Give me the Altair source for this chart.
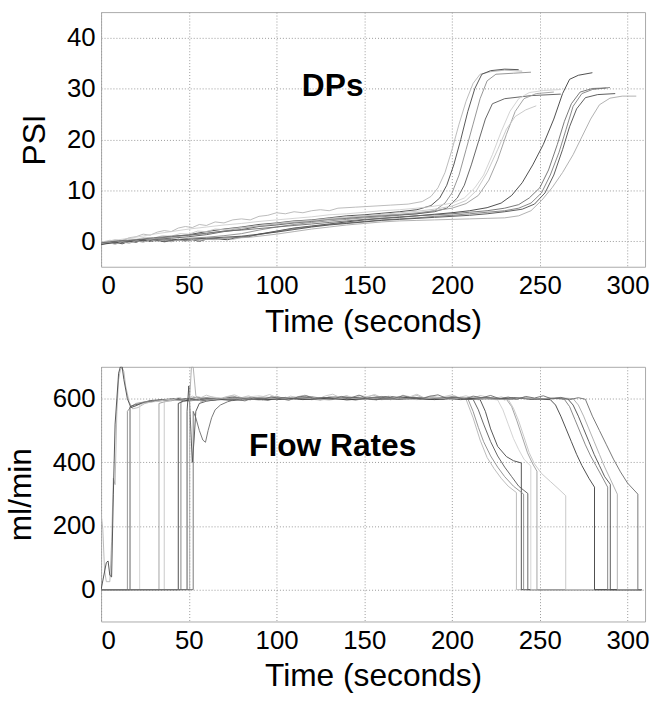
import altair as alt
import pandas as pd

# ---------------- DP curves (time s, PSI) ----------------
dp_A = [(0,-0.3),(4,0.0),(8,0.3),(12,0.1),(16,0.7),(20,0.9),(24,1.4),(28,1.2),(32,1.8),(36,2.1),(40,1.9),(44,2.6),(48,2.9),(52,2.7),(56,3.3),(60,3.1),(65,3.8),(70,3.6),(75,4.2),(80,4.4),(85,4.2),(90,4.9),(95,5.1),(100,5.6),(105,5.4),(110,5.8),(115,5.6),(120,6.0),(125,6.2),(130,6.0),(135,6.5),(145,6.7),(155,6.9),(165,7.1),(175,7.3),(183,7.8),(188,8.8),(192,10.5),(196,13.5),(200,18),(204,23),(208,27.5),(212,31),(216,32.8),(222,33.3),(230,33.6),(240,33.4)]
dp_B = [(0,-0.6),(10,-0.2),(20,0.3),(30,0.5),(40,0.9),(50,1.3),(60,1.9),(70,2.4),(80,2.8),(90,3.3),(100,3.6),(110,4.0),(120,4.2),(130,4.6),(140,5.0),(150,5.2),(160,5.5),(170,5.8),(180,6.2),(188,7.0),(193,8.5),(197,11),(201,15),(205,20),(209,25.5),(213,30),(217,32.8),(222,33.5),(230,33.8),(238,33.7)]
dp_C = [(0,-0.4),(10,0.0),(20,0.1),(30,0.3),(40,0.2),(50,0.6),(60,0.8),(70,1.1),(80,1.5),(90,2.2),(100,2.8),(110,3.3),(120,3.7),(130,4.0),(140,4.3),(150,4.6),(160,4.8),(170,5.1),(180,5.4),(190,6.0),(196,7.5),(200,9.5),(204,13),(208,18),(212,23),(216,28),(220,31.5),(225,32.8),(235,33.0),(245,33.2)]
dp_D = [(0,-0.5),(10,-0.3),(20,0.2),(30,0.4),(40,0.6),(50,0.9),(60,1.3),(70,1.9),(80,2.3),(90,2.9),(100,3.2),(110,3.6),(120,3.9),(130,4.3),(140,4.5),(150,4.8),(160,5.0),(170,5.2),(180,5.4),(190,5.8),(197,6.5),(203,8.5),(207,11),(211,15),(215,19.5),(219,24),(223,27),(230,28),(245,28.6),(262,28.9)]
dp_E = [(0,-0.3),(10,0.3),(20,0.8),(30,1.4),(40,1.9),(50,2.4),(60,2.8),(70,3.2),(80,3.5),(90,3.9),(100,4.2),(110,4.5),(120,4.8),(130,5.2),(140,5.4),(150,5.7),(160,6.0),(170,6.2),(180,6.5),(190,6.9),(200,7.5),(207,8.5),(213,10.5),(218,13),(223,17),(228,21.5),(233,25.5),(238,28),(244,29.2),(252,29.6),(262,29.8)]
dp_F = [(0,-0.5),(10,-0.2),(20,0.1),(30,0.5),(40,0.8),(50,1.2),(60,1.5),(70,2.0),(80,2.6),(90,3.0),(100,3.4),(110,3.7),(120,4.0),(130,4.3),(140,4.6),(150,4.9),(160,5.1),(170,5.3),(180,5.6),(190,6.0),(200,6.5),(208,7.4),(215,9),(221,12),(226,16),(231,21),(236,25.5),(241,28),(248,29),(258,29.3)]
dp_G = [(0,-0.2),(5,0.2),(10,0.0),(15,0.5),(20,0.4),(25,0.8),(30,0.6),(35,1.1),(40,1.0),(45,1.5),(50,1.4),(55,2.0),(60,1.9),(65,2.4),(70,2.3),(80,2.7),(90,3.1),(100,3.5),(110,3.9),(120,4.1),(130,4.5),(140,4.8),(150,5.0),(160,5.3),(170,5.6),(180,5.9),(190,6.3),(200,6.9),(208,8),(214,10),(220,13.5),(226,18),(231,22),(236,24.5),(242,25.8),(248,26.6)]
dp_H = [(0,-0.6),(4,-0.3),(8,-0.1),(12,-0.5),(16,0.0),(20,-0.2),(24,0.3),(28,0.0),(32,0.2),(36,-0.1),(40,0.1),(44,0.4),(48,0.1),(52,0.3),(56,0.0),(60,0.4),(66,0.5),(72,0.3),(78,0.8),(84,0.9),(90,1.4),(100,2.0),(110,2.6),(120,3.0),(130,3.4),(140,3.8),(150,4.2),(160,4.5),(170,4.7),(180,5.0),(190,5.3),(200,5.6),(210,6.0),(220,6.6),(228,7.5),(234,9),(240,11.5),(246,15),(252,19),(258,24),(263,29),(267,31.8),(272,32.6),(280,33.1)]
dp_I = [(0,-0.4),(10,-0.1),(20,0.0),(30,0.2),(40,0.1),(50,0.3),(60,0.5),(70,0.6),(80,0.8),(90,1.3),(100,1.9),(110,2.5),(120,2.9),(130,3.3),(140,3.6),(150,3.9),(160,4.2),(170,4.4),(180,4.6),(190,4.9),(200,5.1),(210,5.4),(220,5.7),(230,6.0),(238,6.5),(245,7.5),(251,9.5),(256,13),(261,17.5),(265,22),(269,26.5),(274,29),(280,29.8),(290,30.2)]
dp_J = [(0,-0.5),(10,-0.3),(20,0.0),(30,0.2),(40,0.3),(50,0.4),(60,0.6),(70,0.8),(80,1.0),(90,1.4),(100,1.8),(110,2.3),(120,2.8),(130,3.2),(140,3.5),(150,3.8),(160,4.1),(170,4.3),(180,4.5),(190,4.7),(200,4.9),(210,5.1),(220,5.4),(230,5.8),(240,6.3),(247,7.3),(253,9.5),(258,13),(263,18),(267,22.5),(271,26),(276,28.2),(283,28.8),(293,29.0)]
dp_K = [(0,-0.5),(4,-0.2),(8,-0.6),(12,-0.1),(16,-0.4),(20,0.1),(24,-0.2),(28,0.3),(32,0.0),(36,0.2),(40,-0.1),(44,0.3),(48,0.0),(52,0.4),(56,0.1),(60,0.4),(65,0.3),(70,0.6),(75,0.4),(80,0.7),(85,0.8),(90,1.0),(100,1.4),(110,1.9),(120,2.4),(130,2.8),(140,3.2),(150,3.5),(160,3.8),(170,4.0),(180,4.1),(190,4.2),(200,4.3),(210,4.4),(220,4.5),(230,4.6),(238,5.0),(245,6.0),(251,8.0),(257,10.5),(263,13.5),(269,17),(274,20.5),(279,24),(284,26.8),(290,28.1),(297,28.5),(305,28.5)]
dp_L = [(0,-0.3),(10,0.1),(20,0.3),(30,0.7),(40,1.0),(50,1.2),(60,1.6),(70,2.0),(80,2.2),(90,2.5),(100,2.8),(110,3.1),(120,3.4),(130,3.7),(140,4.0),(150,4.3),(160,4.5),(170,4.8),(180,5.0),(190,5.2),(200,5.4),(210,5.7),(220,6.0),(230,6.5),(238,7.2),(244,8.5),(250,10.5),(255,14),(260,19),(264,23.5),(268,27),(273,29.3),(280,30.0),(288,30.1)]

# ---------------- Flow-rate curves (time s, ml/min) ----------------
fl_1 = [(0,240),(1,190),(2,60),(3,25),(5,25),(6,150),(7,350),(8,330),(9,560),(10,660),(11,690),(12,698),(13,685),(14,640),(16,590),(18,568),(21,572),(25,585),(30,592),(35,598),(40,593),(45,601),(50,597),(55,606),(60,600),(65,595),(70,604),(75,609),(80,600),(85,596),(90,605),(95,601),(100,608),(105,598),(110,603),(115,610),(120,601),(125,596),(130,606),(135,602),(140,609),(145,599),(150,604),(155,611),(160,602),(165,597),(170,607),(175,603),(180,610),(185,600),(190,605),(195,598),(200,606),(205,601),(208,598),(212,540),(216,470),(220,415),(224,380),(228,350),(232,325),(236.7,305),(236.7,0),(308,0)]
fl_2 = [(0,0),(3,85),(4,90),(5,45),(6,40),(7,300),(8,520),(9,600),(10,680),(11,700),(12,700),(13,660),(15,600),(17,572),(20,578),(24,588),(28,594),(35,597),(45,601),(55,596),(65,602),(75,598),(85,603),(95,597),(105,601),(115,605),(125,598),(135,602),(145,596),(155,603),(165,599),(175,604),(185,598),(195,602),(205,600),(216,597),(219,560),(222,505),(226,450),(231,418),(235,405),(239.5,398),(239.5,0),(308,0)]
fl_3 = [(0,0),(15,0),(15,560),(17,575),(20,585),(25,590),(30,593),(40,598),(50,594),(60,600),(70,597),(80,601),(90,596),(100,599),(110,602),(120,597),(130,600),(140,598),(150,602),(160,597),(170,600),(180,603),(190,598),(200,601),(209,600),(212,560),(215,510),(218,465),(222,420),(226,385),(230,355),(235,325),(240.8,300),(240.8,0),(308,0)]
fl_4 = [(0,0),(16.5,0),(16.5,575),(19,580),(23,585),(28,590),(35,594),(45,598),(55,603),(65,597),(75,605),(85,600),(95,596),(105,604),(115,599),(125,602),(135,606),(145,598),(155,601),(165,607),(175,600),(185,603),(195,598),(205,604),(212,598),(215,565),(218,520),(222,465),(226,420),(230,385),(234,355),(238,325),(243.2,302),(243.2,0),(308,0)]
fl_5 = [(0,0),(22,0),(22,580),(25,586),(30,590),(38,597),(46,593),(55,600),(63,606),(72,598),(80,603),(90,609),(100,600),(110,604),(120,597),(130,603),(140,608),(150,601),(160,597),(170,604),(180,599),(190,606),(200,601),(210,604),(220,600),(226,596),(229,565),(232,520),(235,475),(238,440),(241,410),(244.9,388),(244.9,0),(308,0)]
fl_6 = [(0,0),(33,0),(33,585),(36,590),(42,596),(50,592),(58,599),(66,595),(75,601),(85,597),(95,603),(105,598),(115,600),(125,596),(135,602),(145,599),(155,604),(165,597),(175,602),(185,599),(195,603),(205,600),(215,597),(225,601),(231,598),(234,575),(237,530),(240,480),(243,430),(246,395),(248.4,372),(248.4,0),(308,0)]
fl_7 = [(0,0),(36,0),(36,590),(40,595),(44,603),(48,598),(52,608),(56,601),(60,611),(64,604),(68,598),(72,607),(76,612),(80,603),(84,609),(88,601),(92,606),(96,613),(100,604),(104,599),(108,608),(112,603),(116,611),(120,605),(124,600),(128,609),(132,614),(136,604),(140,608),(144,601),(148,610),(152,605),(156,613),(160,603),(164,608),(168,600),(172,611),(176,606),(180,614),(184,603),(188,609),(192,602),(196,607),(200,612),(204,604),(208,609),(212,601),(216,610),(220,605),(224,599),(228,606),(232,598),(235,570),(238,530),(241,480),(244,430),(247,395),(251,365),(256,340),(261,315),(264.8,295),(264.8,0),(308,0)]
fl_8 = [(0,0),(44,0),(44,585),(47,592),(52,598),(60,594),(70,600),(80,596),(90,602),(100,597),(110,601),(120,598),(130,603),(140,596),(150,600),(160,604),(170,598),(180,601),(190,597),(200,602),(210,599),(220,603),(230,597),(240,601),(250,598),(256,597),(259,580),(262,545),(265,505),(268,465),(271,425),(274,390),(278,350),(281.2,322),(281.2,0),(308,0)]
fl_9 = [(0,0),(45.5,0),(45.5,590),(48,600),(53,596),(60,603),(68,598),(76,604),(84,600),(92,597),(100,605),(110,600),(120,606),(130,598),(140,604),(150,601),(160,607),(170,599),(180,603),(190,600),(200,606),(210,598),(220,604),(230,600),(240,603),(250,599),(260,602),(264,598),(267,575),(270,535),(273,495),(276,455),(279,420),(282,390),(285,360),(288.7,322),(288.7,0),(308,0)]
fl_10 = [(0,0),(49,0),(49,560),(50,640),(51,520),(52,400),(53,470),(54,560),(56,585),(60,592),(67,598),(75,594),(85,600),(95,596),(105,602),(115,597),(125,601),(135,598),(145,603),(155,597),(165,600),(175,604),(185,598),(195,601),(205,597),(215,602),(225,599),(235,603),(245,598),(255,601),(266,599),(269,580),(272,545),(275,505),(278,465),(281,425),(284,390),(287,355),(290.2,331),(290.2,0),(308,0)]
fl_11 = [(0,0),(50.5,0),(50.5,600),(51.5,700),(52.5,700),(54,610),(57,590),(62,596),(70,601),(80,597),(90,603),(100,599),(110,604),(120,600),(130,596),(140,602),(150,598),(160,603),(170,600),(180,597),(190,602),(200,599),(210,604),(220,600),(230,597),(240,602),(250,599),(260,603),(269,600),(272,580),(275,545),(278,505),(281,465),(284,425),(287,385),(290,350),(294.2,300),(294.2,0),(308,0)]
fl_12 = [(0,0),(52.5,0),(52.5,560),(54,540),(56,500),(58,470),(59.5,463),(61,500),(63,540),(65,565),(68,580),(72,590),(77,598),(82,593),(87,603),(92,597),(97,606),(102,600),(107,595),(112,605),(117,609),(122,599),(127,604),(132,598),(137,607),(142,602),(147,611),(152,600),(157,596),(162,606),(167,601),(172,609),(177,603),(182,598),(187,607),(192,612),(197,601),(202,605),(207,598),(212,608),(217,603),(222,610),(227,600),(232,605),(237,598),(242,607),(247,602),(252,609),(257,599),(262,604),(267,597),(272,603),(276,598),(280,545),(284,500),(288,455),(292,410),(296,370),(300,335),(305.9,300),(305.9,0),(308,0)]

dp_runs = [("A", dp_A), ("B", dp_B), ("C", dp_C), ("D", dp_D), ("E", dp_E), ("F", dp_F),
           ("G", dp_G), ("H", dp_H), ("I", dp_I), ("J", dp_J), ("K", dp_K), ("L", dp_L)]
fl_runs = [("1", fl_1), ("2", fl_2), ("3", fl_3), ("4", fl_4), ("5", fl_5), ("6", fl_6),
           ("7", fl_7), ("8", fl_8), ("9", fl_9), ("10", fl_10), ("11", fl_11), ("12", fl_12)]

dp_grays = ["#b4b4b4", "#444444", "#8a8a8a", "#555555", "#cfcfcf", "#9a9a9a",
            "#c4c4c4", "#3a3a3a", "#7a7a7a", "#4a4a4a", "#a8a8a8", "#6a6a6a"]
fl_grays = ["#c0c0c0", "#808080", "#484848", "#999999", "#b0b0b0", "#666666",
            "#c8c8c8", "#555555", "#8c8c8c", "#707070", "#a0a0a0", "#b8b8b8"]

x_ticks = [0, 50, 100, 150, 200, 250, 300]
dp_ticks = [0, 10, 20, 30, 40]
fl_ticks = [0, 200, 400, 600]


def to_frame(runs):
    rows = []
    for name, pts in runs:
        for i, (t, v) in enumerate(pts):
            rows.append({"run": name, "t": t, "v": v, "i": i})
    return pd.DataFrame(rows)


dp_df = to_frame(dp_runs)
fl_df = to_frame(fl_runs)

FONT = "Liberation Sans"
W, H = 549, 257


def panel(df, names, grays, ydom, yticks, ytitle, label, lx, ly):
    lines = alt.Chart(df).mark_line(strokeWidth=0.9, clip=True).encode(
        x=alt.X("t:Q", scale=alt.Scale(domain=[0, 310], nice=False, zero=False),
                axis=alt.Axis(values=x_ticks, title="Time (seconds)")),
        y=alt.Y("v:Q", scale=alt.Scale(domain=ydom, nice=False, zero=False),
                axis=alt.Axis(values=yticks, title=ytitle)),
        color=alt.Color("run:N", scale=alt.Scale(domain=names, range=grays), legend=None),
        order=alt.Order("i:Q"),
        detail="run:N",
    )
    txt = alt.Chart(df).mark_text(font=FONT, fontSize=32, fontWeight="bold",
                                   color="black", align="center", baseline="middle").encode(
        x=alt.datum(lx), y=alt.datum(ly), text=alt.value(label)
    ).transform_filter("datum.i == 0 && datum.run == '%s'" % names[0])
    return alt.layer(lines, txt).properties(width=W, height=H)


top = panel(dp_df, [n for n, _ in dp_runs], dp_grays, [-5, 45], dp_ticks, "PSI", "DPs", 132, 30.5)
bottom = panel(fl_df, [n for n, _ in fl_runs], fl_grays, [-100, 700], fl_ticks, "ml/min", "Flow Rates", 132, 450)

chart = alt.vconcat(top, bottom, spacing=28).properties(
    padding={"left": 4, "top": 8, "right": 0, "bottom": 0},
    background="white",
).configure_axis(
    labelFont=FONT, labelFontSize=26, labelColor="black", labelPadding=6,
    titleFont=FONT, titleFontSize=32, titleFontWeight="normal", titleColor="black",
    titlePadding=8,
    grid=True, gridColor="#9a9a9a", gridDash=[1, 2], gridWidth=1,
    domain=False, ticks=False,
).configure_axisY(titlePadding=15).configure_view(stroke="#aaaaaa", strokeWidth=1)

chart.save("out.html", embed_options={"renderer": "svg", "actions": False})
